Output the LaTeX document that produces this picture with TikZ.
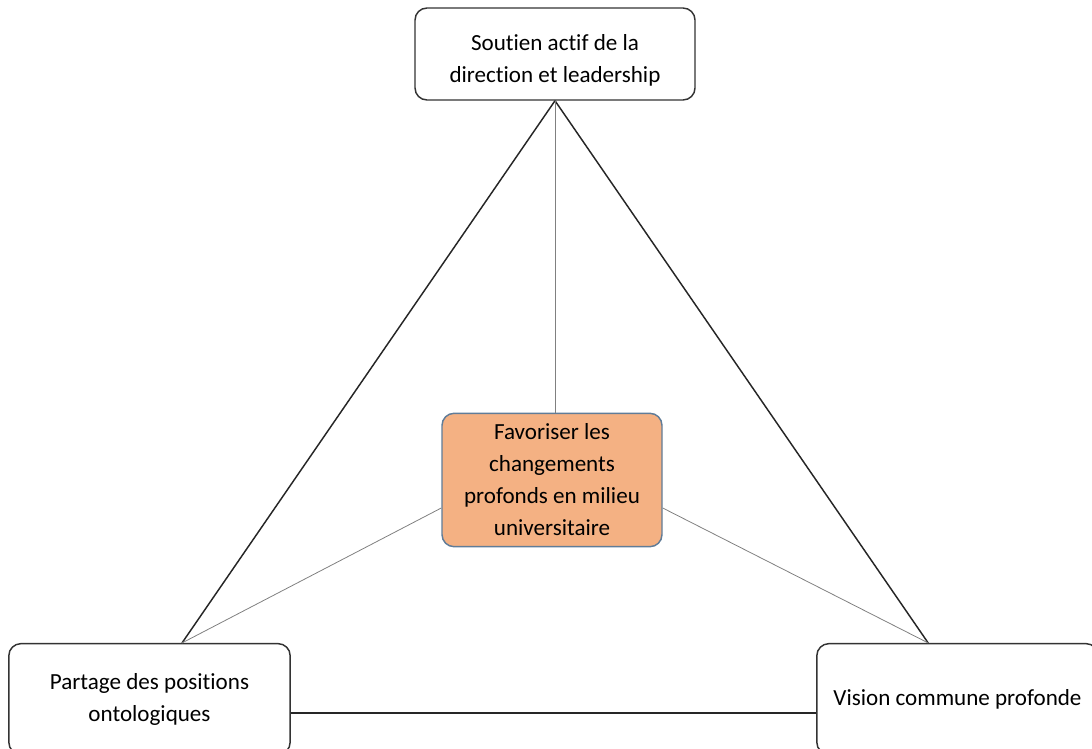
\documentclass[tikz,border=0pt]{standalone}
\usepackage{fontspec}
\setmainfont{Carlito}[Ligatures=CommonOff]
\definecolor{favfill}{RGB}{244,177,131}
\definecolor{favline}{RGB}{96,124,152}

\begin{document}
\begin{tikzpicture}[x=0.75pt,y=-0.75pt,
  box/.style={draw=black!80,line width=1.1pt,rounded corners=9pt,align=center,
    inner sep=0pt,font=\fontsize{17.3}{24}\selectfont},
  rim/.style={draw=black!85,line width=1.1pt},
  spoke/.style={draw=black!50,line width=0.6pt}]
\useasboundingbox (0,0) rectangle (1092,749);
\clip (0,0) rectangle (1092,749);
\node[box,minimum width=210pt,minimum height=69pt] (T) at (555,54) {\rule{0pt}{22pt}Soutien actif de la\\direction et leadership};
\node[box,minimum width=211pt,minimum height=83pt] (L) at (149.5,699) {Partage des positions\\ontologiques};
\node[box,minimum width=211pt,minimum height=83pt] (R) at (957.5,699) {Vision commune profonde};
\node[box,draw=favline,fill=favfill,minimum width=165pt,minimum height=100pt] (F) at (552,480) {Favoriser les\\changements\\profonds en milieu\\universitaire};
\draw[rim] (T.south) -- ([xshift=24.4pt]L.north);
\draw[rim] (T.south) -- ([xshift=-22pt]R.north);
\draw[rim] ([yshift=-10.5pt]L.east) -- ([yshift=-10.5pt]R.west);
\draw[spoke] (T.south) -- (F.north -| T.south);
\draw[spoke] ([yshift=-21pt]F.west) -- ([xshift=24.4pt]L.north);
\draw[spoke] ([yshift=-21pt]F.east) -- ([xshift=-22pt]R.north);
\end{tikzpicture}
\end{document}
